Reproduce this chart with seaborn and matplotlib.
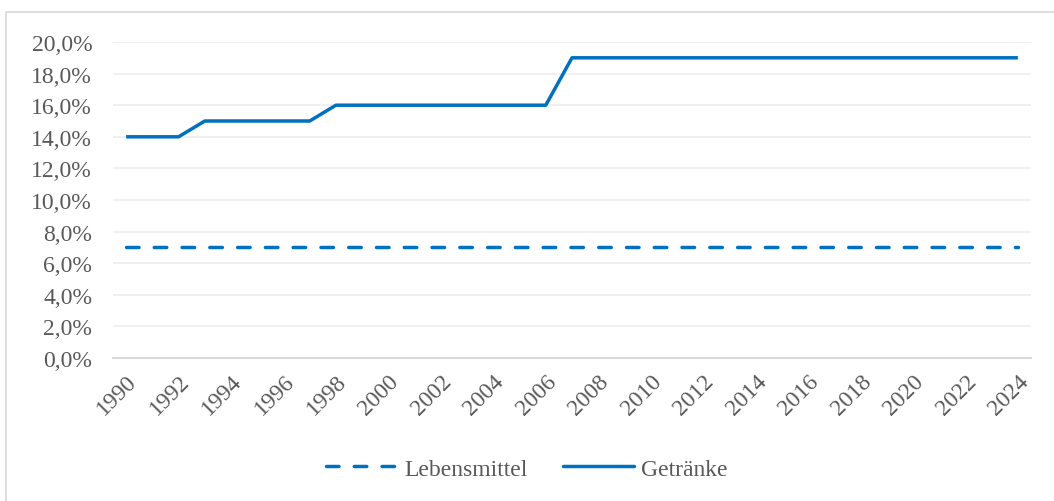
import matplotlib
matplotlib.use('Agg')
import matplotlib.pyplot as plt
import matplotlib.ticker as mticker
from matplotlib.patches import Rectangle
from matplotlib.lines import Line2D
import seaborn as sns
import pandas as pd

sns.set_style('white')
plt.rcParams['font.family'] = ['Liberation Serif', 'DejaVu Serif']

# Mehrwertsteuer-Sätze (Anteil)
years = list(range(1990, 2025))
lebensmittel = [0.07] * 35
getraenke = ([0.14] * 3 + [0.15] * 5 + [0.16] * 9 + [0.19] * 18)
series_names = ['Lebensmittel', 'Getränke']

df = pd.DataFrame({
    'Jahr': years * 2,
    'Satz': lebensmittel + getraenke,
    'Reihe': [series_names[0]] * len(years) + [series_names[1]] * len(years),
})

BLUE = '#0070C0'
GREY_TXT = '#595959'
LW = 2.5
DASH = (3.6, 4.4)
FS = 17

fig = plt.figure(figsize=(10.54, 5.02), dpi=100)
ax = fig.add_axes([113 / 1054, 1 - 359 / 502, (1031 - 113) / 1054, (359 - 43) / 502])

g = sns.lineplot(data=df, x='Jahr', y='Satz', hue='Reihe', style='Reihe',
                 palette={n: BLUE for n in series_names},
                 dashes={'Lebensmittel': DASH, 'Getränke': ''},
                 linewidth=LW, ax=ax, legend=False)
for ln in g.lines:
    ln.set_dash_capstyle('round')
    ln.set_solid_capstyle('butt')

g.set_xlim(1989.5, 2024.5)
g.set_ylim(0, 0.2)
g.set_xticks(years[::2])
g.set_yticks([i / 100 for i in range(0, 21, 2)])
g.yaxis.set_major_formatter(mticker.FuncFormatter(lambda v, p: f'{v * 100:.1f}%'.replace('.', ',')))
g.set_xticklabels([str(y) for y in years[::2]], rotation=45, ha='right', rotation_mode='anchor')
g.tick_params(axis='both', length=0, labelsize=FS, colors=GREY_TXT)
g.tick_params(axis='x', pad=9)
g.tick_params(axis='y', pad=15)
g.set_xlabel('')
g.set_ylabel('')
g.grid(axis='y', color='#EEEEEE', linewidth=1.2)
g.set_axisbelow(True)
for side in ['left', 'right', 'top']:
    g.spines[side].set_visible(False)
g.spines['bottom'].set_color('#D9D9D9')
g.spines['bottom'].set_linewidth(1.5)

handles = [Line2D([0], [0], color=BLUE, lw=LW, dashes=DASH, dash_capstyle='round'),
           Line2D([0], [0], color=BLUE, lw=LW)]
fig.legend(handles, series_names, loc='center', bbox_to_anchor=(0.5, 1 - 470 / 502),
           ncol=2, frameon=False, fontsize=FS, handlelength=3.0, handletextpad=0.3,
           columnspacing=1.5, labelcolor=GREY_TXT)

fig.patches.append(Rectangle((6 / 1054, -0.1), 1.1, 1.1 - 13 / 502,
                             transform=fig.transFigure, fill=False,
                             edgecolor='#D9D9D9', linewidth=1.2))

fig.savefig('out.png', dpi=100)
